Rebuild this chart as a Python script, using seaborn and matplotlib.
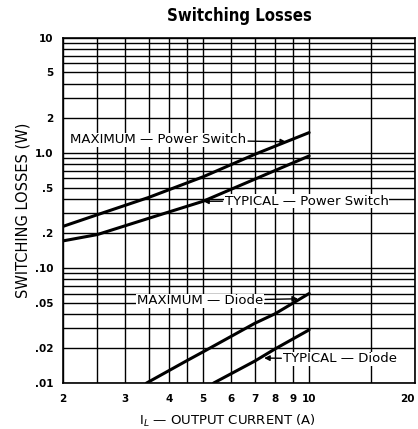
import numpy as np
import pandas as pd
import matplotlib
matplotlib.use("Agg")
import matplotlib.pyplot as plt
from matplotlib.ticker import FixedLocator, NullFormatter
import seaborn as sns

# curves (output current A, losses W)
max_switch_x = [2, 2.5, 3.5, 5, 7, 10]
max_switch_y = [0.23, 0.29, 0.41, 0.62, 0.97, 1.5]
typ_switch_x = [2, 2.5, 3.5, 5, 7, 10]
typ_switch_y = [0.172, 0.195, 0.27, 0.38, 0.59, 0.94]
max_diode_x = [3.45, 4.5, 5, 7, 8, 10]
max_diode_y = [0.01, 0.0157, 0.0187, 0.033, 0.040, 0.060]
typ_diode_x = [5.35, 7, 8, 10]
typ_diode_y = [0.01, 0.0155, 0.0198, 0.029]

x_ticks = [2, 3, 4, 5, 6, 7, 8, 9, 10, 20]
x_minor = [2.5, 3.5, 4.5, 15]
y_ticks = [0.01, 0.02, 0.05, 0.1, 0.2, 0.5, 1, 2, 5, 10]
y_labels = [".01", ".02", ".05", ".10", ".2", ".5", "1.0", "2", "5", "10"]
y_minor = [m * d for d in [0.01, 0.1, 1] for m in [3, 4, 6, 7, 8, 9]]

frames = []
for name, xs, ys in [("max_switch", max_switch_x, max_switch_y),
                     ("typ_switch", typ_switch_x, typ_switch_y),
                     ("max_diode", max_diode_x, max_diode_y),
                     ("typ_diode", typ_diode_x, typ_diode_y)]:
    frames.append(pd.DataFrame({"I": xs, "P": ys, "curve": name}))
df = pd.concat(frames)

sns.set_style("white")
plt.rcParams["font.family"] = ["DejaVu Sans"]
plt.rcParams["text.color"] = "black"
plt.rcParams["axes.labelcolor"] = "black"
plt.rcParams["xtick.color"] = "black"
plt.rcParams["ytick.color"] = "black"

fig = plt.figure(figsize=(4.18, 4.29), dpi=100)
ax = fig.add_axes([0.151, 0.107, 0.842, 0.805])
ax.set_xscale("log")
ax.set_yscale("log")

sns.lineplot(data=df, x="I", y="P", hue="curve", palette=["black"] * 4,
             linewidth=2.2, legend=False, ax=ax, zorder=3)

ax.set_xlim(2, 20)
ax.set_ylim(0.01, 10)
ax.xaxis.set_major_locator(FixedLocator(x_ticks))
ax.xaxis.set_minor_locator(FixedLocator(x_minor))
ax.xaxis.set_minor_formatter(NullFormatter())
ax.set_xticklabels([str(v) for v in x_ticks])
ax.yaxis.set_major_locator(FixedLocator(y_ticks))
ax.yaxis.set_minor_locator(FixedLocator(y_minor))
ax.yaxis.set_minor_formatter(NullFormatter())
ax.set_yticklabels(y_labels)

ax.grid(True, which="both", color="black", linewidth=1.0)
ax.tick_params(which="both", length=0, labelsize=7.5)
ax.tick_params(axis="x", pad=8)
ax.tick_params(axis="y", pad=7)
for lab in ax.get_xticklabels() + ax.get_yticklabels():
    lab.set_fontweight("bold")
ax.get_xticklabels()[-1].set_horizontalalignment("right")
for s in ax.spines.values():
    s.set_color("black")
    s.set_linewidth(1.2)

ax.set_xlabel("I$_L$ — OUTPUT CURRENT (A)", fontsize=9.5)
ax.xaxis.set_label_coords(0.466, -0.085)
ax.set_ylabel("SWITCHING LOSSES (W)", fontsize=10.5, labelpad=3)
ax.set_title("Switching Losses", fontsize=12, fontweight="bold",
             fontstretch="condensed", pad=12)

arrow = dict(arrowstyle="-|>", color="black", lw=1.0, shrinkA=1, shrinkB=0,
             mutation_scale=8)
box = dict(facecolor="white", edgecolor="none", pad=0.5)
ax.annotate("MAXIMUM — Power Switch", xy=(8.6, 1.25), xytext=(2.09, 1.3),
            fontsize=9.5, va="center", ha="left", arrowprops=arrow, bbox=box, zorder=4)
ax.annotate("TYPICAL — Power Switch", xy=(5.0, 0.38), xytext=(5.75, 0.38),
            fontsize=9.5, va="center", ha="left", arrowprops=arrow, bbox=box, zorder=4)
ax.annotate("MAXIMUM — Diode", xy=(9.3, 0.054), xytext=(3.24, 0.052),
            fontsize=9.5, va="center", ha="left", arrowprops=arrow, bbox=box, zorder=4)
ax.annotate("TYPICAL — Diode", xy=(7.45, 0.0165), xytext=(8.45, 0.0162),
            fontsize=9.5, va="center", ha="left", arrowprops=arrow, bbox=box, zorder=4)

fig.savefig("out.png", dpi=100)
